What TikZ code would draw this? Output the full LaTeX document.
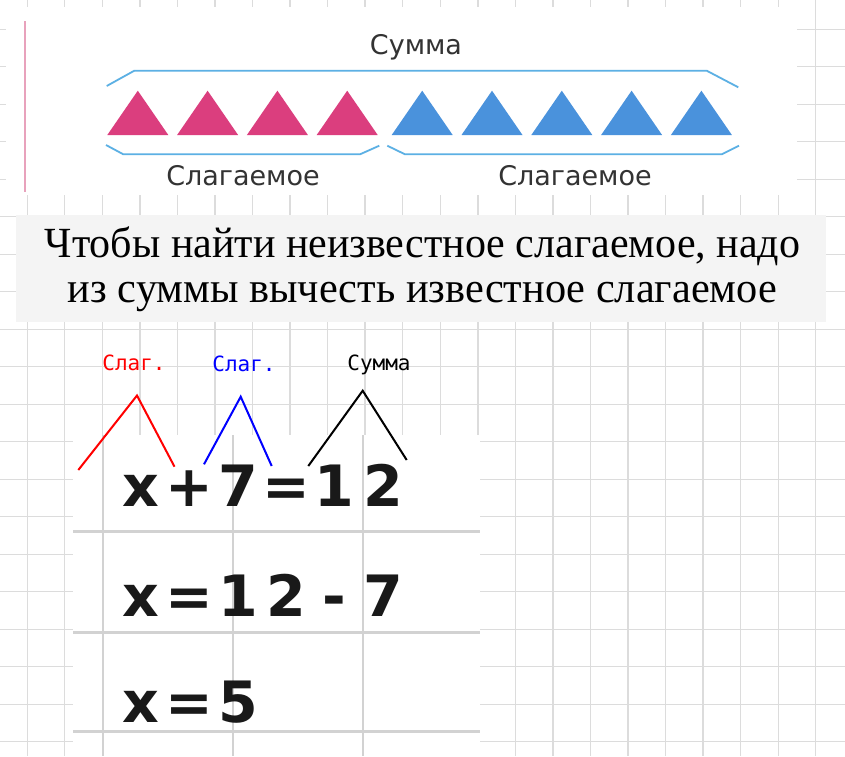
\documentclass[tikz,border=0pt]{standalone}
\usepackage{fontspec}
\setmainfont{Liberation Serif}
\newfontfamily\djmono{DejaVu Sans Mono}
\newfontfamily\djsans{DejaVu Sans}
\definecolor{gridc}{HTML}{DCDCDC}
\definecolor{boxgray}{HTML}{F4F4F4}
\definecolor{pinkc}{HTML}{DB3E7E}
\definecolor{bluec}{HTML}{4A92DC}
\definecolor{bracketc}{HTML}{5CB0E4}
\definecolor{pinkline}{HTML}{E8A2BC}
\definecolor{labelc}{HTML}{333333}
\definecolor{innergrid}{HTML}{D2D2D2}
\newcommand\eqcell[1]{\makebox[48.4pt]{#1}}
\tikzset{
  gridline/.style={draw=gridc, line width=1.4pt},
  innerline/.style={draw=innergrid, line width=2.6pt},
  bracket/.style={draw=bracketc, line width=1.8pt, line join=round},
  toplabel/.style={inner sep=0pt, anchor=base, text=labelc, font=\djsans\fontsize{27}{31}\selectfont},
  rulelabel/.style={inner sep=0pt, anchor=base, font=\fontsize{43}{48}\selectfont},
  eqline/.style={inner sep=0pt, anchor=base west, text=black!90, font=\djsans\bfseries\fontsize{57}{63}\selectfont},
  smalllabel/.style={inner sep=0pt, anchor=base, font=\djmono\fontsize{21}{25}\selectfont},
  vshape/.style={line width=2pt, line join=miter}
}
\begin{document}
\begin{tikzpicture}[x=1pt,y=-1pt]
\useasboundingbox (0,0) rectangle (845,756);
\fill[white] (0,0) rectangle (845,756);
% background grid
\foreach \i in {0,...,21} \draw[gridline] ({27.2+37.55*\i},0) -- ++(0,756);
\foreach \j in {0,...,19} \draw[gridline] (0,{29.2+37.5*\j}) -- ++(845,0);
% top panel
\fill[white] (6,7) rectangle (797,195);
\draw[draw=pinkline, line width=2pt] (25,21) -- (25,192);
\foreach \i in {0,...,3}
  \fill[pinkc] ({107.3+69.8*\i},135) -- ({137.8+69.8*\i},90.7) -- ({168.3+69.8*\i},135) -- cycle;
\foreach \i in {0,...,4}
  \fill[bluec] ({391.7+69.8*\i},135) -- ({422.2+69.8*\i},90.7) -- ({452.7+69.8*\i},135) -- cycle;
\coordinate (t1) at (106.7,86);
\coordinate (t2) at (134.3,70.7);
\coordinate (t3) at (706.7,70.7);
\coordinate (t4) at (738.3,87.3);
\draw[bracket] (t1) -- (t2) -- (t3) -- (t4);
\coordinate (l1) at (106,145);
\coordinate (l2) at (123.3,154.3);
\coordinate (l3) at (360,154.3);
\coordinate (l4) at (379.3,145.7);
\draw[bracket] (l1) -- (l2) -- (l3) -- (l4);
\coordinate (r1) at (387.3,145.7);
\coordinate (r2) at (405,154.3);
\coordinate (r3) at (721.7,154.3);
\coordinate (r4) at (739,145.7);
\draw[bracket] (r1) -- (r2) -- (r3) -- (r4);
\node[toplabel] (summa) at (416,54) {Сумма};
\node[toplabel] (slag1) at (243,185) {Слагаемое};
\node[toplabel] (slag2) at (575,185) {Слагаемое};
% rule box
\fill[boxgray] (16,215) rectangle (826,322);
\node[rulelabel] (rule1) at (422.5,257) {\scalebox{0.978}[1]{Чтобы найти неизвестное слагаемое, надо}};
\node[rulelabel] (rule2) at (422.5,302) {\scalebox{0.985}[1]{из суммы вычесть известное слагаемое}};
% equation panel
\fill[white] (73,435) rectangle (480,756);
\foreach \x in {103,233,363} \draw[innerline] (\x,435) -- (\x,756);
\foreach \y in {531.7,632.7,731.7} \draw[innerline] (73,\y) -- (480,\y);
\node[eqline] (eq1) at (116.8,506) {\eqcell{x}\eqcell{+}\eqcell{7}\eqcell{=}\eqcell{1}\eqcell{2}};
\node[eqline] (eq2) at (116.8,616) {\eqcell{x}\eqcell{=}\eqcell{1}\eqcell{2}\eqcell{-}\eqcell{7}};
\node[eqline] (eq3) at (116.8,722) {\eqcell{x}\eqcell{=}\eqcell{5}};
% labels and V shapes
\node[smalllabel, text=red] (lab1) at (134,370) {Слаг.};
\node[smalllabel, text=blue] (lab2) at (244,371) {Слаг.};
\node[smalllabel, text=black] (lab3) at (379,370) {Сумма};
\coordinate (ra) at (78.3,470);
\coordinate (rp) at (137,395.5);
\coordinate (rb) at (174.5,466.7);
\draw[vshape, red] (ra) -- (rp) -- (rb);
\coordinate (ba) at (204,464.3);
\coordinate (bp) at (240.7,396.7);
\coordinate (bb) at (271.7,466);
\draw[vshape, blue] (ba) -- (bp) -- (bb);
\coordinate (ka) at (308.3,466);
\coordinate (kp) at (362.7,390.7);
\coordinate (kb) at (406.7,460);
\draw[vshape, black] (ka) -- (kp) -- (kb);
\end{tikzpicture}
\end{document}
